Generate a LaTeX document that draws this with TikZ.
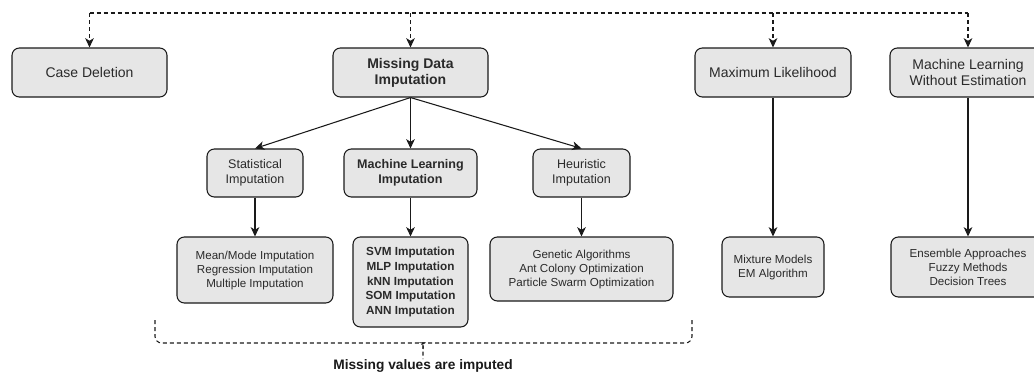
\documentclass[tikz,border=0pt]{standalone}
\usepackage{fontspec}
\setmainfont{Liberation Sans}
\usetikzlibrary{arrows.meta}
\definecolor{boxfill}{HTML}{E6E6E6}
\definecolor{ink}{HTML}{1A1A1A}
\definecolor{txt}{HTML}{2A2A2A}
\begin{document}
\begin{tikzpicture}[x=0.75pt,y=-0.75pt,
  box/.style={draw=ink, fill=boxfill, rounded corners=5.5pt, line width=0.8pt, align=center, inner sep=0pt, text=txt},
  sz/.style 2 args={minimum width=#1*0.75pt, minimum height=#2*0.75pt},
  topbox/.style={box, font=\fontsize{10.5}{12}\selectfont},
  midbox/.style={box, font=\fontsize{9.4}{11.5}\selectfont},
  lstbox/.style={box, font=\fontsize{8.7}{10.5}\selectfont},
  arr/.style={-{Stealth[length=7pt,width=6.5pt,inset=2pt]}, line width=0.8pt, draw=ink},
  darr/.style={arr, dash pattern=on 3pt off 2.25pt},
  dline/.style={draw=ink, line width=0.8pt, dash pattern=on 3pt off 2.25pt}
]
\clip (0,0) rectangle (1034,379);
\useasboundingbox (0,0) rectangle (1034,379);

% top level
\node[topbox, sz={155}{49}] (cd) at (89.5,72.5) {Case Deletion};
\node[topbox, sz={155}{49}, font=\fontsize{10.5}{12}\selectfont\bfseries] (mdi) at (410.5,72.5) {Missing Data\\Imputation};
\node[topbox, sz={156}{49}] (ml) at (773,72.5) {Maximum Likelihood};
\node[topbox, sz={156}{49}] (mlwe) at (968,72.5) {Machine Learning\\Without Estimation};

% second level
\node[midbox, sz={96}{48}] (stat) at (255,173) {Statistical\\Imputation};
\node[midbox, sz={133}{48}, font=\fontsize{9.4}{11.5}\selectfont\bfseries] (mli) at (410.5,173) {Machine Learning\\Imputation};
\node[midbox, sz={97}{48}] (heur) at (581.5,173) {Heuristic\\Imputation};

% lists
\node[lstbox, sz={156}{66}] (mm) at (255,270) {Mean/Mode Imputation\\Regression Imputation\\Multiple Imputation};
\node[lstbox, sz={115}{90}, font=\fontsize{8.8}{10.9}\selectfont\bfseries] (mll) at (410.5,282) {SVM Imputation\\MLP Imputation\\kNN Imputation\\SOM Imputation\\ANN Imputation};
\node[lstbox, sz={183}{64}] (hl) at (581.5,269) {Genetic Algorithms\\Ant Colony Optimization\\Particle Swarm Optimization};
\node[lstbox, sz={102}{60}] (mix) at (773,267) {Mixture Models\\EM Algorithm};
\node[lstbox, sz={154}{60}] (ens) at (968,267) {Ensemble Approaches\\Fuzzy Methods\\Decision Trees};

% dashed top connector
\coordinate (tl) at (89.5,13);
\coordinate (tr) at (968,13);
\draw[dline] (tl) -- (tr);
\draw[darr] (tl) -- (cd.north);
\draw[darr] (mdi.north |- tl) -- (mdi.north);
\draw[darr] (ml.north |- tl) -- (ml.north);
\draw[darr] (tr) -- (mlwe.north);

% solid arrows
\draw[arr] (mdi.south) -- (stat.north);
\draw[arr] (mdi.south) -- (mli.north);
\draw[arr] (mdi.south) -- (heur.north);
\draw[arr] (stat.south) -- (mm.north);
\draw[arr] (mli.south) -- (mll.north);
\draw[arr] (heur.south) -- (hl.north);
\draw[arr] (ml.south) -- (mix.north);
\draw[arr] (mlwe.south) -- (ens.north);

% brace
\coordinate (bl) at (155,320);
\coordinate (br) at (692,320);
\coordinate (bt) at (423,359);
\draw[dline, rounded corners=5pt] (bl) -- (155,343) -- (417,343) .. controls (421,343) and (423,345) .. (423,349) -- (bt);
\draw[dline, rounded corners=5pt] (br) -- (692,343) -- (429,343) .. controls (425,343) and (423,345) .. (423,349);
\node[font=\fontsize{10.3}{12}\selectfont\bfseries, text=ink, inner sep=0pt] (lbl) at (423,366) {Missing values are imputed};
\end{tikzpicture}
\end{document}
